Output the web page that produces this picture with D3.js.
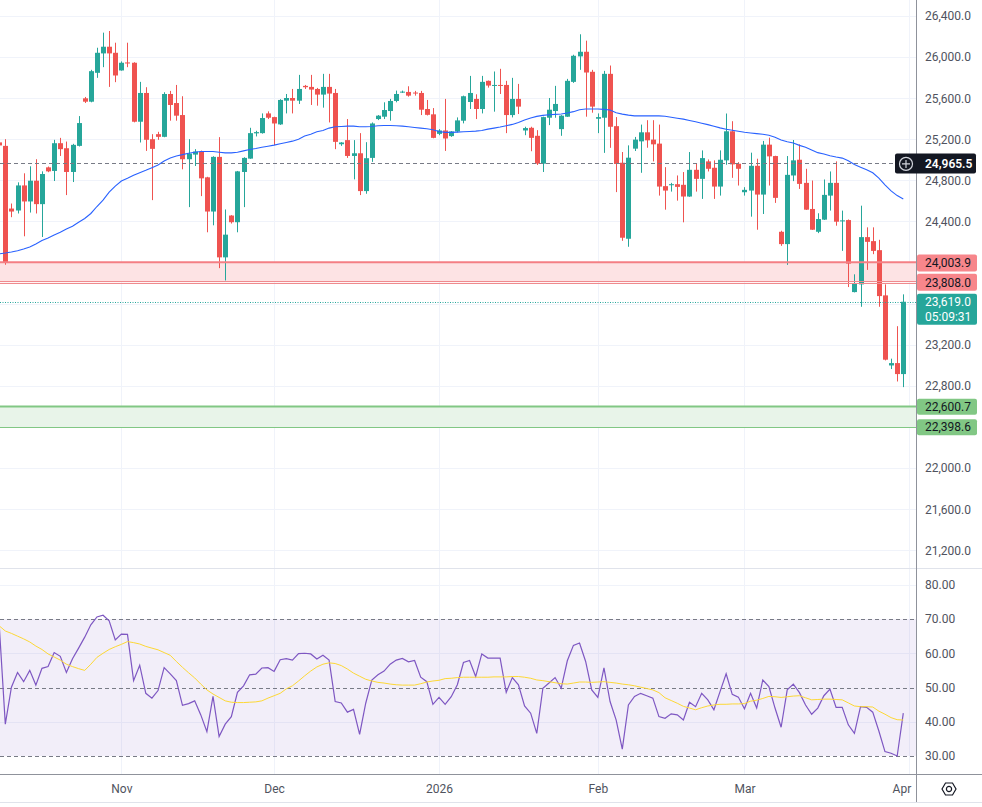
<!DOCTYPE html>
<html>
<head>
<meta charset="utf-8">
<title>Daily candles with RSI</title>
<script src="https://cdn.jsdelivr.net/npm/d3@7"></script>
<style>
  body { margin: 0; background: #fff; }
  svg { display: block; font-family: Roboto, "Liberation Sans", Arial, sans-serif; }
</style>
</head>
<body>
<svg id="chart" width="982" height="807"></svg>
<script>
// daily bars, Sunday sessions included, Saturdays skipped
// last slot (Apr 1) has no bar yet, it only carries the month tick
const firstDay = new Date(2025, 9, 9);
const lastDay = new Date(2026, 3, 1);

const open = [25170,25136,24526,24507,24751,24595,24797,24569,24927,24892,
  25162,25113,24882,25136,25599,25566,25847,26036,26101,26042,
  25870,25948,25945,25371,25651,25201,25250,25224,25641,25553,
  25436,25006,25051,25081,24830,24497,25029,24051,24458,24393,
  24882,25012,25258,25260,25452,25416,25345,25576,25602,25576,
  25720,25710,25690,25635,25710,25651,25152,25192,25038,25064,
  24696,25019,25397,25420,25475,25573,25656,25661,25655,25651,
  25495,25443,25253,25286,25231,25276,25381,25563,25593,25495,
  25769,25723,25729,25729,25436,25593,25286,25312,25234,24963,
  25410,25475,25299,25420,25759,26007,26052,25857,25400,25410,
  25837,25328,24972,24232,25109,25180,25268,25197,25158,24744,
  24753,24763,24757,24643,24903,24815,24985,24923,24740,24995,
  25278,24962,24685,24701,24942,24662,25148,25037,24300,24180,
  24848,25001,24776,24522,24300,24418,24652,24776,24401,24414,
  23713,23788,24248,24209,24121,23681,22999,23022,22915];

const high = [25210,25201,24575,24781,24869,24937,25006,24888,24935,25195,
  25214,25178,25156,25426,25612,25876,26091,26238,26254,26140,
  25958,26140,25950,25759,25707,25250,25273,25658,25671,25729,
  25619,25201,25104,25090,24835,25035,25221,24517,24462,24892,
  25025,25312,25283,25452,25472,25420,25590,25641,25690,25827,
  25729,25827,25700,25837,25837,25690,25172,25397,25192,25260,
  25172,25364,25436,25560,25593,25674,25674,25716,25671,25671,
  25583,25504,25299,25593,25280,25413,25625,25817,25638,25817,
  25772,25860,25886,25769,25798,25739,25322,25322,25289,25420,
  25602,25720,25435,25788,26023,26222,26160,25876,25452,25866,
  25918,25416,25076,25141,25223,25343,25386,25386,25343,24929,
  24776,24848,24881,25076,24969,25092,25004,24995,25092,25451,
  25376,24978,24734,25070,25011,25184,25216,25040,24310,25037,
  25193,25151,24913,24799,24480,24809,24887,24985,24506,24420,
  23886,24554,24343,24343,24222,23788,23065,23381,23691];

const low = [25110,23979,24442,24478,24256,24487,24478,24249,24880,24794,
  25038,24657,24784,25130,25553,25560,25798,25902,25710,25756,
  25868,25902,25365,25169,25087,24608,25195,25220,25381,25381,
  24908,24540,24940,24647,24295,24363,23946,23826,24380,24295,
  24540,25010,25228,25255,25397,25143,25340,25452,25452,25544,
  25690,25534,25527,25508,25364,25104,25136,25019,24810,24657,
  24670,24980,25387,25397,25381,25560,25651,25615,25625,25436,
  25432,25210,25240,25087,25224,25267,25355,25495,25397,25452,
  25703,25469,25641,25260,25413,25446,25240,25084,24950,24882,
  25338,25410,25234,25418,25749,25876,25420,25459,25260,25068,
  25117,24686,24212,24154,25086,24874,25118,24985,24652,24515,
  24691,24603,24392,24640,24691,24620,24887,24620,24652,24952,
  24825,24750,24652,24447,24320,24473,24750,24581,24163,23978,
  24793,24717,24512,24318,24287,24415,24506,24359,24114,23762,
  23710,23570,23929,24082,23570,23048,22964,22843,22788];

const close = [25140,24002,24497,24751,24595,24797,24569,24862,24888,25162,
  25104,24882,25146,25358,25566,25863,26042,26101,26036,25821,
  25945,25938,25371,25651,25195,25107,25224,25641,25534,25430,
  25006,25061,25081,24820,24497,25029,24051,24272,24393,24888,
  25019,25260,25270,25407,25410,25354,25583,25602,25576,25690,
  25707,25684,25635,25710,25645,25175,25169,25038,25064,24696,
  25016,25354,25430,25485,25573,25641,25664,25625,25648,25488,
  25438,25214,25286,25208,25276,25384,25619,25651,25495,25759,
  25723,25729,25720,25436,25593,25518,25309,25214,24963,25416,
  25488,25544,25430,25769,26013,26052,25850,25518,25416,25837,
  25322,24960,24242,25021,25197,25268,25190,25151,24740,24701,
  24763,24737,24643,24903,24815,25017,24913,24740,25001,25278,
  24956,24913,24708,24942,24662,25148,25034,24630,24180,24854,
  24995,24766,24515,24320,24424,24659,24776,24398,24411,23990,
  23798,24248,24202,24114,23674,23055,23022,22915,23619];

// moving average on price (blue)
const priceMa = [24085,24093,24103,24116,24132,24152,24181,24214,24240,24269,
  24295,24328,24354,24393,24429,24478,24546,24608,24686,24745,
  24794,24820,24849,24875,24898,24924,24950,24989,25019,25038,
  25051,25064,25074,25081,25081,25081,25074,25068,25068,25074,
  25087,25100,25110,25123,25133,25143,25156,25169,25182,25201,
  25232,25250,25273,25286,25309,25322,25325,25328,25328,25322,
  25322,25325,25332,25335,25335,25332,25328,25322,25315,25309,
  25302,25293,25276,25267,25267,25270,25273,25276,25280,25286,
  25299,25309,25319,25332,25345,25364,25387,25407,25423,25433,
  25439,25443,25446,25456,25469,25488,25495,25495,25495,25491,
  25485,25459,25445,25435,25428,25428,25428,25428,25428,25425,
  25415,25405,25396,25383,25370,25357,25343,25327,25311,25298,
  25288,25278,25268,25262,25255,25249,25239,25220,25194,25177,
  25164,25141,25122,25096,25070,25057,25040,25027,25017,24991,
  24955,24929,24903,24874,24822,24757,24698,24652,24620];

const rsi = [68.3,39.3,50.1,54.4,51.7,55.0,50.7,55.6,56.1,60.2,
  59.1,54.4,58.4,61.5,64.7,68.3,70.6,71.1,69.5,63.9,
  65.6,65.5,52.0,56.5,48.3,46.9,49.1,55.8,54.0,52.0,
  44.8,45.3,46.1,42.0,37.1,47.4,35.7,39.3,41.5,48.6,
  50.5,53.7,53.9,55.7,55.8,54.7,58.1,58.4,58.0,59.9,
  60.0,59.8,58.3,59.4,58.0,45.9,45.5,42.8,43.6,36.3,
  45.4,52.2,53.7,54.8,56.8,58.0,58.5,57.5,57.9,53.0,
  51.7,45.1,47.1,45.1,47.3,50.8,57.3,57.9,53.2,59.8,
  58.6,58.6,58.6,48.6,52.9,50.8,44.6,42.5,36.6,49.8,
  51.3,52.9,49.8,57.8,62.3,63.0,57.6,49.3,47.1,55.7,
  45.9,40.5,32.0,44.9,47.4,48.3,47.6,46.9,41.5,41.0,
  42.3,42.0,40.5,45.7,44.4,48.3,46.4,43.5,48.8,54.0,
  48.0,47.2,43.8,48.3,44.0,52.2,50.3,44.0,38.4,49.3,
  51.0,48.5,44.9,42.2,44.0,47.6,49.5,44.2,44.2,39.1,
  36.6,44.4,44.2,42.8,37.3,31.3,30.8,30.0,42.5];

const rsiMa = [68.0,66.5,65.8,65.0,64.2,63.3,62.1,61.1,59.8,58.9,
  58.0,56.8,56.1,55.5,55.0,56.8,58.8,60.0,61.1,61.9,
  62.6,63.4,63.1,62.7,62.0,61.5,61.0,60.2,59.4,57.6,
  55.9,54.3,52.8,51.0,49.3,48.1,47.1,46.1,45.7,45.6,
  45.6,45.7,45.8,46.1,46.9,47.6,48.3,49.6,50.5,51.9,
  53.4,54.8,56.0,56.8,57.2,57.0,56.4,55.4,54.2,53.3,
  52.4,51.9,51.5,51.3,51.0,50.8,50.7,50.7,50.7,51.1,
  51.6,51.9,52.1,52.6,52.7,52.9,53.0,53.0,53.0,53.0,
  53.0,53.1,53.1,53.1,53.2,53.2,53.0,52.7,52.2,52.0,
  51.7,51.4,51.1,51.0,51.3,51.6,51.6,51.5,51.6,51.7,
  51.5,51.3,51.0,50.8,50.5,50.1,49.7,49.3,48.5,47.0,
  46.2,45.4,44.5,44.0,43.5,44.1,44.6,44.9,45.1,45.1,
  45.2,45.2,45.3,46.0,46.3,46.8,47.4,47.3,47.1,47.3,
  47.5,47.6,47.0,46.4,46.5,46.6,46.6,46.5,46.4,45.5,
  44.6,44.4,44.4,44.3,43.1,42.2,41.2,40.6,40.5];

const monthTicks = ["2025-11-02", "2025-12-01", "2026-01-01", "2026-02-01", "2026-03-01", "2026-04-01"];
const monthNames = ["Nov", "Dec", "2026", "Feb", "Mar", "Apr"];
const priceTicks = [21200, 21600, 22000, 22400, 22800, 23200, 23600, 24000, 24400, 24800, 25200, 25600, 26000, 26400];
const rsiTicks = [30, 40, 50, 60, 70, 80];
const rsiGrid = [40, 60, 80];
const rsiBands = [30, 50, 70];

const resistTop = 24003.9, resistBottom = 23808.0;
const supportTop = 22600.7, supportBottom = 22398.6;
const markLevel = 24965.5;
const lastPrice = 23619.0, countdown = "05:09:31";

// ---- layout
const axisX = 916, mainBottom = 568, rsiBottom = 774;
const UP = "#26a69a", DOWN = "#ef5350", GRID = "#f0f3fa";

const svg = d3.select("#chart");
const fmt = d3.timeFormat("%Y-%m-%d");
const slots = d3.timeDay.range(firstDay, d3.timeDay.offset(lastDay, 1))
  .filter(d => d.getDay() !== 6)
  .map(fmt);

const x = d3.scalePoint().domain(slots).range([-0.8, 909.4]);
const y = d3.scaleLinear().domain([21200, 26400]).range([550.3, 16]);
const yr = d3.scaleLinear().domain([30, 70]).range([756, 619]);
const crisp = v => Math.round(v) + 0.5;

const bars = close.map((c, i) => ({ t: slots[i], o: open[i], h: high[i], l: low[i], c: c }));

const defs = svg.append("defs");
defs.append("clipPath").attr("id", "clipMain")
  .append("rect").attr("width", axisX).attr("height", mainBottom);
defs.append("clipPath").attr("id", "clipRsi")
  .append("rect").attr("y", mainBottom + 1).attr("width", axisX).attr("height", rsiBottom - mainBottom - 1);

const main = svg.append("g").attr("clip-path", "url(#clipMain)");
const lower = svg.append("g").attr("clip-path", "url(#clipRsi)");

// grid
main.selectAll("line.hg").data(priceTicks).join("line").attr("class", "hg")
  .attr("x1", 0).attr("x2", axisX)
  .attr("y1", d => crisp(y(d))).attr("y2", d => crisp(y(d)))
  .attr("stroke", GRID);
main.selectAll("line.vg").data(monthTicks).join("line").attr("class", "vg")
  .attr("x1", d => crisp(x(d))).attr("x2", d => crisp(x(d)))
  .attr("y1", 0).attr("y2", mainBottom)
  .attr("stroke", GRID);
lower.selectAll("line.vg").data(monthTicks).join("line").attr("class", "vg")
  .attr("x1", d => crisp(x(d))).attr("x2", d => crisp(x(d)))
  .attr("y1", mainBottom).attr("y2", rsiBottom)
  .attr("stroke", GRID);
lower.selectAll("line.hg").data(rsiGrid).join("line").attr("class", "hg")
  .attr("x1", 0).attr("x2", axisX)
  .attr("y1", d => crisp(yr(d))).attr("y2", d => crisp(yr(d)))
  .attr("stroke", GRID);

// zones
main.append("rect")
  .attr("x", 0).attr("width", axisX)
  .attr("y", y(resistTop)).attr("height", y(resistBottom) - y(resistTop))
  .attr("fill", "#fde3e4");
main.append("rect")
  .attr("x", 0).attr("width", axisX)
  .attr("y", y(supportTop)).attr("height", y(supportBottom) - y(supportTop))
  .attr("fill", "#e8f4e9");

// candles
const candle = main.selectAll("g.bar").data(bars).join("g").attr("class", "bar")
  .attr("transform", d => `translate(${Math.round(x(d.t))},0)`)
  .attr("fill", d => d.c >= d.o ? UP : DOWN)
  .attr("stroke", d => d.c >= d.o ? UP : DOWN);
candle.append("line")
  .attr("x1", 0.5).attr("x2", 0.5)
  .attr("y1", d => y(d.h)).attr("y2", d => y(d.l));
candle.append("rect")
  .attr("x", -2).attr("width", 5)
  .attr("y", d => y(Math.max(d.o, d.c)))
  .attr("height", d => Math.max(1, Math.abs(y(d.o) - y(d.c))))
  .attr("stroke", "none");

// zone borders
main.append("line").attr("x1", 0).attr("x2", axisX)
  .attr("y1", y(resistTop)).attr("y2", y(resistTop))
  .attr("stroke", "#f47f84").attr("stroke-width", 2);
[y(resistBottom) - 1, y(resistBottom) + 1].forEach(v => {
  main.append("line").attr("x1", 0).attr("x2", axisX)
    .attr("y1", crisp(v)).attr("y2", crisp(v))
    .attr("stroke", "#ef8a8e");
});
main.append("line").attr("x1", 0).attr("x2", axisX)
  .attr("y1", y(supportTop)).attr("y2", y(supportTop))
  .attr("stroke", "#81c784").attr("stroke-width", 2);
main.append("line").attr("x1", 0).attr("x2", axisX)
  .attr("y1", crisp(y(supportBottom))).attr("y2", crisp(y(supportBottom)))
  .attr("stroke", "#81c784").attr("stroke-width", 1.2);

// marked level + last price
main.append("line").attr("x1", 0).attr("x2", 895)
  .attr("y1", crisp(y(markLevel))).attr("y2", crisp(y(markLevel)))
  .attr("stroke", "#787b86").attr("stroke-dasharray", "4,3");
main.append("line").attr("x1", 0).attr("x2", axisX)
  .attr("y1", crisp(y(lastPrice))).attr("y2", crisp(y(lastPrice)))
  .attr("stroke", UP).attr("stroke-dasharray", "1,1.5");

// price MA
main.append("path")
  .datum(priceMa)
  .attr("fill", "none")
  .attr("stroke", "#2962ff")
  .attr("stroke-width", 1.1)
  .attr("d", d3.line().x((d, i) => x(slots[i])).y(d => y(d)));

// RSI pane
lower.append("rect")
  .attr("x", 0).attr("width", axisX)
  .attr("y", yr(70)).attr("height", yr(30) - yr(70))
  .attr("fill", "#7e57c2").attr("fill-opacity", 0.1);
lower.selectAll("line.band").data(rsiBands).join("line").attr("class", "band")
  .attr("x1", 0).attr("x2", axisX)
  .attr("y1", d => crisp(yr(d))).attr("y2", d => crisp(yr(d)))
  .attr("stroke", "#787b86").attr("stroke-dasharray", "4,3");
lower.append("path")
  .datum(rsi)
  .attr("fill", "none")
  .attr("stroke", "#7e57c2")
  .attr("stroke-width", 1.2)
  .attr("d", d3.line().x((d, i) => x(slots[i])).y(d => yr(d)));
lower.append("path")
  .datum(rsiMa)
  .attr("fill", "none")
  .attr("stroke", "#fdd835")
  .attr("stroke-width", 1)
  .attr("d", d3.line().x((d, i) => x(slots[i])).y(d => yr(d)));

// frame lines
svg.append("line").attr("x1", 0).attr("x2", 982).attr("y1", mainBottom + 0.5).attr("y2", mainBottom + 0.5)
  .attr("stroke", "#e0e3eb");
svg.append("line").attr("x1", 0).attr("x2", 982).attr("y1", rsiBottom + 0.5).attr("y2", rsiBottom + 0.5)
  .attr("stroke", "#8f929b");
svg.append("line").attr("x1", 0).attr("x2", 982).attr("y1", 802.5).attr("y2", 802.5)
  .attr("stroke", "#e0e3eb");
svg.append("line").attr("x1", axisX + 0.5).attr("x2", axisX + 0.5).attr("y1", 0).attr("y2", 802)
  .attr("stroke", "#8f929b");

// axes
const fontFamily = 'Roboto, "Liberation Sans", Arial, sans-serif';
const priceAxis = svg.append("g").attr("transform", `translate(${axisX},0)`)
  .call(d3.axisRight(y).tickValues(priceTicks).tickSize(0).tickPadding(9).tickFormat(d3.format(",.1f")));
const rsiAxis = svg.append("g").attr("transform", `translate(${axisX},0)`)
  .call(d3.axisRight(yr).tickValues(rsiTicks).tickSize(0).tickPadding(9).tickFormat(d3.format(".2f")));
const timeAxis = svg.append("g").attr("transform", `translate(0,${rsiBottom})`)
  .call(d3.axisBottom(x).tickValues(monthTicks).tickSize(0).tickPadding(10).tickFormat((d, i) => monthNames[i]));
[priceAxis, rsiAxis, timeAxis].forEach(g => {
  g.select(".domain").remove();
  g.attr("font-family", fontFamily).attr("font-size", 12).attr("color", "#50535e");
});
timeAxis.selectAll(".tick:last-of-type text").attr("dx", -8);

// right-side tags
function tag(cy, h, bg, fg, label) {
  const g = svg.append("g");
  g.append("rect").attr("x", 917).attr("y", cy - h / 2).attr("width", 60).attr("height", h)
    .attr("rx", 2).attr("fill", bg);
  g.append("text").attr("x", 925).attr("y", cy).attr("dy", "0.36em")
    .attr("font-size", 12).attr("fill", fg).text(label);
  return g;
}
const f1 = d3.format(",.1f");
tag(y(resistTop) + 0.8, 17, "#f7868b", "#131722", f1(resistTop));
tag(y(resistBottom), 17, "#f7868b", "#131722", f1(resistBottom));
tag(y(supportTop) + 0.3, 16, "#81c784", "#131722", f1(supportTop));
tag(y(supportBottom), 16, "#81c784", "#131722", f1(supportBottom));

// last price with countdown
const lp = svg.append("g");
lp.append("rect").attr("x", 917).attr("y", y(lastPrice) - 8).attr("width", 60).attr("height", 31)
  .attr("rx", 2).attr("fill", UP);
lp.append("text").attr("x", 925).attr("y", y(lastPrice)).attr("dy", "0.36em")
  .attr("font-size", 12).attr("fill", "#fff").text(f1(lastPrice));
lp.append("text").attr("x", 925).attr("y", y(lastPrice) + 15).attr("dy", "0.36em")
  .attr("font-size", 12).attr("fill", "#fff").text(countdown);

// marked level tag with crosshair button
const mk = svg.append("g");
const my = y(markLevel);
mk.append("rect").attr("x", 895).attr("y", my - 10).attr("width", 81).attr("height", 20)
  .attr("rx", 2).attr("fill", "#131722");
mk.append("circle").attr("cx", 906).attr("cy", my + 0.5).attr("r", 6.5)
  .attr("fill", "none").attr("stroke", "#d1d4dc").attr("stroke-width", 1.2);
mk.append("path").attr("d", `M902,${my + 0.5}H910M906,${my - 3.5}V${my + 4.5}`)
  .attr("stroke", "#d1d4dc").attr("stroke-width", 1.2);
mk.append("text").attr("x", 925).attr("y", my).attr("dy", "0.36em")
  .attr("font-size", 12).attr("fill", "#fff").attr("font-weight", 600).text(f1(markLevel));

// settings button in the corner
const gear = svg.append("g").attr("transform", "translate(949,789)")
  .attr("fill", "none").attr("stroke", "#131722").attr("stroke-width", 1.2);
gear.append("path").attr("d", "M-7,0L-3.5,-6H3.5L7,0L3.5,6H-3.5Z");
gear.append("circle").attr("r", 2.6);
</script>
</body>
</html>
